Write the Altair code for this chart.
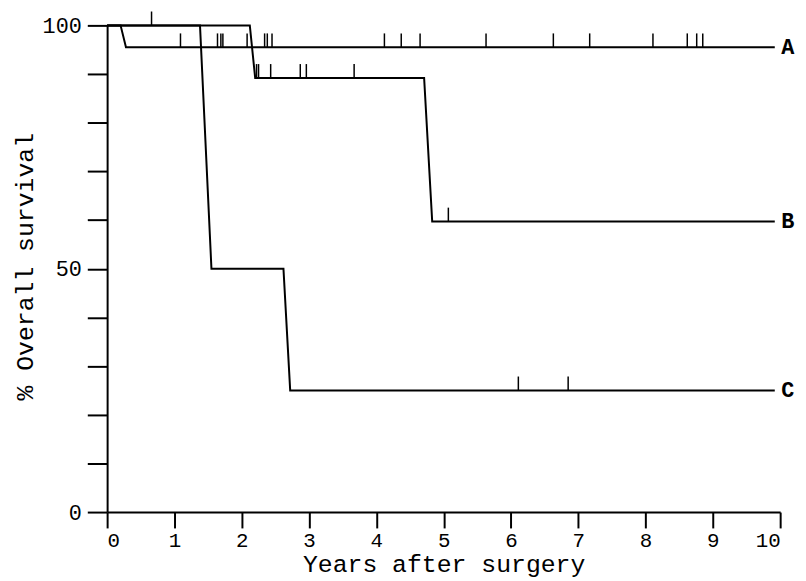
import altair as alt
import pandas as pd

# Kaplan-Meier curves (years, % survival); drops are slightly slanted in the source
A_t = [0, 0.20, 0.28, 9.92]
A_s = [100, 100, 95.5, 95.5]
B_t = [0, 2.12, 2.20, 4.71, 4.83, 9.92]
B_s = [100, 100, 89.2, 89.2, 59.7, 59.7]
C_t = [0, 1.38, 1.55, 2.62, 2.72, 9.92]
C_s = [100, 100, 50, 50, 25, 25]

# censored observations (years, level)
A_cens_t = [1.09, 1.64, 1.69, 1.72, 2.08, 2.34, 2.38, 2.45, 4.12, 4.37, 4.65,
            5.63, 6.63, 7.17, 8.11, 8.62, 8.76, 8.85]
A_cens_s = [95.5] * len(A_cens_t)
B_cens_t = [0.66, 2.22, 2.25, 2.43, 2.87, 2.96, 3.67, 5.07]
B_cens_s = [100, 89.2, 89.2, 89.2, 89.2, 89.2, 89.2, 59.7]
C_cens_t = [6.11, 6.85]
C_cens_s = [25, 25]

groups = ["A", "B", "C"]
x_ticks = list(range(0, 11))
y_ticks = list(range(0, 101, 10))

FONT = "Liberation Mono"

curves = pd.concat([
    pd.DataFrame({"group": g, "order": range(len(t)), "t": t, "s": s})
    for g, t, s in [("A", A_t, A_s), ("B", B_t, B_s), ("C", C_t, C_s)]
])
cens = pd.concat([
    pd.DataFrame({"group": g, "t": t, "s": s})
    for g, t, s in [("A", A_cens_t, A_cens_s), ("B", B_cens_t, B_cens_s),
                    ("C", C_cens_t, C_cens_s)]
])
labels = pd.DataFrame({"group": groups, "t": [10, 10, 10],
                       "s": [A_s[-1], B_s[-1], C_s[-1]]})

xscale = alt.Scale(domain=[0, 10], nice=False, zero=False)
yscale = alt.Scale(domain=[0, 100], nice=False)

xaxis = alt.Axis(values=x_ticks, format="d", labelOverlap=False,
                 title="Years after surgery", tickSize=16,
                 labelPadding=2, titleY=52, titleBaseline="middle",
                 titleFontWeight="normal", titleFontSize=25, labelFontSize=21,
                 labelFont=FONT, titleFont=FONT, grid=False)
yaxis = alt.Axis(values=y_ticks, format="d", labelOverlap=False,
                 title="% Overall survival", tickSize=20,
                 labelPadding=6,
                 labelExpr="datum.value % 50 == 0 ? datum.label : ''",
                 titleX=-83, titleY=243, titleAlign="center", titleBaseline="middle",
                 titleFontWeight="normal", titleFontSize=25, labelFontSize=22,
                 labelFont=FONT, titleFont=FONT, grid=False)

lines = alt.Chart(curves).mark_line(color="black", strokeWidth=2).encode(
    x=alt.X("t:Q", scale=xscale, axis=xaxis),
    y=alt.Y("s:Q", scale=yscale, axis=yaxis),
    detail="group:N",
    order="order:Q",
)

ticks = alt.Chart(cens).mark_rule(color="black", strokeWidth=1.5, y2Offset=-14).encode(
    x="t:Q",
    y="s:Q",
    y2="s:Q",
)

text = alt.Chart(labels).mark_text(align="left", baseline="middle", dx=1,
                                   font=FONT, fontSize=22, fontWeight="bold",
                                   color="black").encode(
    x="t:Q", y="s:Q", text="group:N")

chart = alt.layer(lines, ticks, text).properties(
    width=679, height=491,
    autosize=alt.AutoSizeParams(type="none"),
    padding={"left": 100, "top": 15, "right": 18, "bottom": 67},
).configure_view(stroke=None).configure_axis(
    domainColor="black", tickColor="black", labelColor="black",
    titleColor="black", domainWidth=2, tickWidth=2,
)

chart.save("out.html", embed_options={"renderer": "svg", "actions": False})
